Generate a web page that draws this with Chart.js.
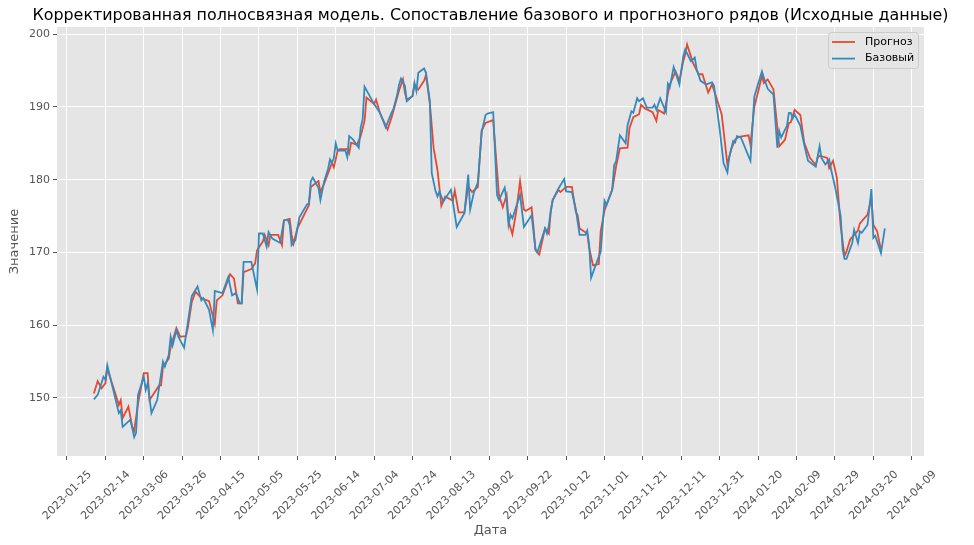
<!DOCTYPE html>
<html><head><meta charset="utf-8">
<script src="https://cdn.jsdelivr.net/npm/chart.js@4.4.1/dist/chart.umd.min.js"></script>
<style>html,body{margin:0;padding:0;background:#fff;}#wrap{width:974px;height:545px;}</style>
</head><body><div id="wrap"><canvas id="c" width="974" height="545"></canvas></div>
<script>
const TITLE = 'Корректированная полносвязная модель. Сопоставление базового и прогнозного рядов (Исходные данные)';
const X_LABEL = 'Дата';
const Y_LABEL = 'Значение';
const SERIES_NAMES = ['Прогноз', 'Базовый'];
const tickDates = ['2023-01-25','2023-02-14','2023-03-06','2023-03-26','2023-04-15','2023-05-05','2023-05-25','2023-06-14','2023-07-04','2023-07-24','2023-08-13','2023-09-02','2023-09-22','2023-10-12','2023-11-01','2023-11-21','2023-12-11','2023-12-31','2024-01-20','2024-02-09','2024-02-29','2024-03-20','2024-04-09'];
const yTicks = [150,160,170,180,190,200];

const baseDates = ['2023-02-08','2023-02-10','2023-02-13','2023-02-14','2023-02-15','2023-02-21','2023-02-22','2023-02-23','2023-02-27','2023-03-01','2023-03-02','2023-03-03','2023-03-06','2023-03-07','2023-03-08','2023-03-10','2023-03-13','2023-03-16','2023-03-17','2023-03-19','2023-03-20','2023-03-21','2023-03-23','2023-03-24','2023-03-27','2023-03-31','2023-04-03','2023-04-05','2023-04-06','2023-04-09','2023-04-11','2023-04-12','2023-04-16','2023-04-19','2023-04-21','2023-04-23','2023-04-25','2023-04-26','2023-04-27','2023-05-01','2023-05-04','2023-05-05','2023-05-07','2023-05-09','2023-05-10','2023-05-12','2023-05-16','2023-05-18','2023-05-20','2023-05-21','2023-05-22','2023-05-24','2023-05-26','2023-05-30','2023-05-31','2023-06-01','2023-06-02','2023-06-05','2023-06-06','2023-06-08','2023-06-10','2023-06-11','2023-06-12','2023-06-13','2023-06-14','2023-06-15','2023-06-19','2023-06-20','2023-06-21','2023-06-23','2023-06-26','2023-06-27','2023-06-28','2023-06-29','2023-07-04','2023-07-07','2023-07-10','2023-07-13','2023-07-14','2023-07-16','2023-07-17','2023-07-18','2023-07-20','2023-07-21','2023-07-24','2023-07-25','2023-07-26','2023-07-27','2023-07-30','2023-07-31','2023-08-02','2023-08-03','2023-08-05','2023-08-06','2023-08-07','2023-08-09','2023-08-13','2023-08-16','2023-08-20','2023-08-22','2023-08-23','2023-08-25','2023-08-27','2023-08-29','2023-08-31','2023-09-01','2023-09-04','2023-09-06','2023-09-07','2023-09-10','2023-09-11','2023-09-12','2023-09-13','2023-09-14','2023-09-18','2023-09-20','2023-09-24','2023-09-26','2023-09-27','2023-10-01','2023-10-02','2023-10-03','2023-10-04','2023-10-05','2023-10-08','2023-10-11','2023-10-12','2023-10-15','2023-10-17','2023-10-19','2023-10-22','2023-10-23','2023-10-24','2023-10-25','2023-10-28','2023-10-30','2023-11-01','2023-11-02','2023-11-05','2023-11-06','2023-11-07','2023-11-09','2023-11-12','2023-11-13','2023-11-15','2023-11-16','2023-11-18','2023-11-19','2023-11-21','2023-11-23','2023-11-26','2023-11-27','2023-11-28','2023-11-30','2023-12-03','2023-12-04','2023-12-05','2023-12-07','2023-12-10','2023-12-12','2023-12-13','2023-12-16','2023-12-18','2023-12-19','2023-12-21','2023-12-24','2023-12-27','2023-12-28','2023-12-31','2024-01-02','2024-01-04','2024-01-05','2024-01-07','2024-01-08','2024-01-09','2024-01-11','2024-01-16','2024-01-18','2024-01-20','2024-01-22','2024-01-23','2024-01-25','2024-01-28','2024-01-30','2024-01-31','2024-02-01','2024-02-04','2024-02-05','2024-02-06','2024-02-07','2024-02-08','2024-02-11','2024-02-13','2024-02-15','2024-02-19','2024-02-21','2024-02-22','2024-02-24','2024-02-26','2024-02-27','2024-02-29','2024-03-03','2024-03-04','2024-03-05','2024-03-06','2024-03-09','2024-03-10','2024-03-12','2024-03-13','2024-03-14','2024-03-17','2024-03-19','2024-03-20','2024-03-21','2024-03-24','2024-03-26'];
const baseValues = [149.8,150.4,152.9,152.5,154.5,147.9,148.3,146.0,147.0,144.6,145.2,150.4,152.9,151.1,152.0,147.9,149.7,155.0,154.3,155.9,158.4,157.2,159.3,158.4,156.9,164.0,165.3,163.4,163.7,162.1,159.3,164.7,164.4,166.6,164.1,164.4,163.0,163.0,168.7,168.7,164.9,172.6,172.6,170.8,172.8,171.9,171.3,174.4,174.5,173.8,171.0,171.7,174.8,176.6,176.7,179.8,180.3,178.9,177.2,179.8,181.5,182.8,182.3,183.0,185.0,184.0,184.0,183.1,186.0,185.5,184.4,187.2,188.3,192.8,190.4,189.2,187.2,189.2,189.7,191.7,193.1,193.9,192.9,190.8,191.5,193.3,192.2,194.7,195.3,194.7,190.8,180.9,178.4,177.7,178.4,177.0,178.6,173.5,175.4,180.7,175.9,178.3,179.6,186.5,188.9,189.1,189.3,177.9,177.2,178.9,177.0,173.8,175.2,174.7,177.9,173.5,175.1,170.5,170.0,173.3,172.6,173.7,175.8,177.2,178.8,180.1,178.4,178.3,176.0,172.4,172.4,173.0,171.0,166.5,168.7,170.1,177.1,176.5,178.6,182.0,182.5,186.1,185.0,187.5,189.4,189.2,191.2,190.8,191.2,189.9,189.9,190.3,189.6,191.2,189.3,193.2,192.7,195.5,193.1,197.0,197.9,196.3,196.8,195.2,193.6,193.1,193.4,192.9,186.9,182.3,181.0,183.2,185.3,185.1,186.0,185.8,182.6,191.4,193.2,194.9,194.0,192.5,191.7,184.4,186.7,185.8,187.4,189.2,189.2,188.4,189.0,187.4,184.8,182.6,181.8,184.6,183.0,182.1,182.8,181.4,179.1,175.0,170.4,169.1,169.1,171.3,173.1,171.3,172.9,172.7,173.8,178.7,172.0,172.3,169.9,173.3];

const forecastDates = ['2023-02-08','2023-02-10','2023-02-12','2023-02-14','2023-02-15','2023-02-20','2023-02-21','2023-02-22','2023-02-23','2023-02-26','2023-02-28','2023-03-01','2023-03-03','2023-03-06','2023-03-08','2023-03-09','2023-03-14','2023-03-15','2023-03-16','2023-03-19','2023-03-20','2023-03-23','2023-03-25','2023-03-28','2023-03-29','2023-03-31','2023-04-02','2023-04-05','2023-04-09','2023-04-12','2023-04-13','2023-04-16','2023-04-20','2023-04-22','2023-04-24','2023-04-26','2023-04-27','2023-05-01','2023-05-03','2023-05-04','2023-05-07','2023-05-08','2023-05-10','2023-05-11','2023-05-15','2023-05-17','2023-05-18','2023-05-21','2023-05-22','2023-05-23','2023-05-25','2023-05-31','2023-06-01','2023-06-05','2023-06-06','2023-06-08','2023-06-12','2023-06-13','2023-06-15','2023-06-16','2023-06-20','2023-06-21','2023-06-22','2023-06-25','2023-06-27','2023-06-29','2023-06-30','2023-07-04','2023-07-05','2023-07-07','2023-07-11','2023-07-13','2023-07-17','2023-07-19','2023-07-20','2023-07-21','2023-07-24','2023-07-25','2023-07-27','2023-07-30','2023-07-31','2023-08-02','2023-08-04','2023-08-06','2023-08-08','2023-08-10','2023-08-14','2023-08-15','2023-08-17','2023-08-20','2023-08-22','2023-08-24','2023-08-27','2023-08-29','2023-08-31','2023-09-04','2023-09-07','2023-09-09','2023-09-11','2023-09-12','2023-09-14','2023-09-16','2023-09-18','2023-09-20','2023-09-21','2023-09-24','2023-09-25','2023-09-26','2023-09-28','2023-09-30','2023-10-01','2023-10-03','2023-10-04','2023-10-05','2023-10-08','2023-10-09','2023-10-12','2023-10-15','2023-10-17','2023-10-18','2023-10-19','2023-10-23','2023-10-24','2023-10-26','2023-10-29','2023-10-30','2023-11-01','2023-11-05','2023-11-07','2023-11-09','2023-11-13','2023-11-14','2023-11-16','2023-11-19','2023-11-20','2023-11-22','2023-11-26','2023-11-28','2023-11-29','2023-12-02','2023-12-05','2023-12-08','2023-12-10','2023-12-12','2023-12-13','2023-12-14','2023-12-17','2023-12-20','2023-12-22','2023-12-25','2023-12-27','2023-12-29','2024-01-01','2024-01-04','2024-01-06','2024-01-08','2024-01-10','2024-01-15','2024-01-16','2024-01-18','2024-01-20','2024-01-22','2024-01-23','2024-01-25','2024-01-28','2024-01-31','2024-02-03','2024-02-05','2024-02-06','2024-02-08','2024-02-11','2024-02-13','2024-02-16','2024-02-19','2024-02-20','2024-02-21','2024-02-25','2024-02-26','2024-02-28','2024-03-01','2024-03-03','2024-03-05','2024-03-06','2024-03-08','2024-03-12','2024-03-13','2024-03-17','2024-03-19','2024-03-20','2024-03-22','2024-03-24'];
const forecastValues = [150.6,152.3,151.3,152.0,154.0,149.9,149.0,149.7,147.2,148.8,146.0,145.5,149.2,153.4,153.4,149.7,151.7,151.7,154.3,155.4,157.0,159.6,158.4,158.5,159.7,163.2,164.6,163.7,163.3,160.2,163.4,164.1,167.0,166.4,163.0,163.0,167.3,167.7,168.5,170.3,171.5,172.4,171.0,172.4,172.4,171.0,174.4,174.6,172.4,171.2,173.3,176.5,179.0,179.8,178.3,179.5,182.3,181.7,184.0,184.2,184.2,183.6,185.1,184.8,186.0,188.1,191.3,190.4,191.0,189.2,186.9,188.5,192.3,193.8,192.0,191.0,191.5,193.1,192.4,193.6,194.4,190.5,184.3,181.3,176.4,177.7,177.1,178.5,175.5,175.5,179.0,178.3,179.0,186.8,187.8,188.2,177.9,176.2,177.9,174.3,172.5,175.6,179.8,175.9,175.7,176.2,173.5,170.3,169.7,172.1,173.3,172.6,175.6,177.2,178.6,178.3,179.0,179.0,175.6,175.1,173.3,172.6,170.6,168.2,168.4,172.9,175.8,178.6,181.8,184.3,184.4,187.1,188.6,189.0,190.3,189.8,189.3,188.1,189.6,189.1,193.1,194.9,193.6,196.3,197.2,198.6,196.1,194.5,194.5,192.0,193.1,191.5,189.0,182.1,184.2,185.5,185.9,186.1,184.8,190.0,192.1,194.3,193.3,193.8,192.4,184.6,185.5,187.8,187.9,189.6,188.9,185.1,183.0,182.0,183.0,183.3,183.0,181.6,182.6,180.3,173.6,169.5,170.1,171.8,173.0,174.0,175.2,177.5,173.8,172.9,170.3];

const EPOCH = Date.UTC(2023, 0, 25);
function dayNum(s) { const p = s.split('-').map(Number); return (Date.UTC(p[0], p[1]-1, p[2]) - EPOCH) / 864e5; }
function toPoints(dates, vals) { return dates.map((d, i) => ({x: dayNum(d), y: vals[i]})); }
const tickPos = tickDates.map(dayNum);
const labelByPos = {}; tickPos.forEach((p, i) => labelByPos[p] = tickDates[i]);

const FONT = 'DejaVu Sans';
const RED = '#E24A33', BLUE = '#348ABD';

const bgPlugin = {
  id: 'bg',
  beforeDraw(chart) {
    const {ctx, chartArea: a} = chart;
    ctx.save();
    ctx.fillStyle = '#ffffff'; ctx.fillRect(0, 0, chart.width, chart.height);
    ctx.fillStyle = '#E5E5E5'; ctx.fillRect(a.left, a.top, a.right - a.left, a.bottom - a.top);
    ctx.restore();
  }
};
const titlePlugin = {
  id: 'axesTitle',
  afterDraw(chart) {
    const {ctx, chartArea: a} = chart;
    ctx.save();
    ctx.font = '15.9px "' + FONT + '"';
    ctx.fillStyle = '#000'; ctx.textAlign = 'center'; ctx.textBaseline = 'middle';
    ctx.fillText(TITLE, (a.left + a.right) / 2, 16);
    ctx.restore();
  }
};
const legendPlugin = {
  id: 'innerLegend',
  afterDatasetsDraw(chart) {
    const {ctx, chartArea: a} = chart;
    const w = 90, h = 36, x = a.right - 6 - w, y = a.top + 5;
    ctx.save();
    ctx.beginPath();
    if (ctx.roundRect) ctx.roundRect(x + 0.5, y + 0.5, w, h, 3); else ctx.rect(x + 0.5, y + 0.5, w, h);
    ctx.fillStyle = 'rgba(229,229,229,0.8)'; ctx.fill();
    ctx.strokeStyle = '#CCCCCC'; ctx.lineWidth = 1; ctx.stroke();
    const items = [{label: SERIES_NAMES[0], color: RED}, {label: SERIES_NAMES[1], color: BLUE}];
    ctx.font = '11px "' + FONT + '"';
    ctx.textBaseline = 'middle'; ctx.textAlign = 'left';
    items.forEach((it, i) => {
      const ly = y + 10 + i * 16.6;
      ctx.beginPath(); ctx.moveTo(x + 4, ly); ctx.lineTo(x + 27, ly);
      ctx.strokeStyle = it.color; ctx.lineWidth = 1.8; ctx.stroke();
      ctx.fillStyle = '#000'; ctx.fillText(it.label, x + 37, ly);
    });
    ctx.restore();
  }
};

new Chart(document.getElementById('c'), {
  type: 'line',
  data: {
    datasets: [
      {label: SERIES_NAMES[1], data: toPoints(baseDates, baseValues), borderColor: BLUE, borderWidth: 1.8, pointRadius: 0, tension: 0, fill: false, order: 1},
      {label: SERIES_NAMES[0], data: toPoints(forecastDates, forecastValues), borderColor: RED, borderWidth: 1.8, pointRadius: 0, tension: 0, fill: false, order: 2}
    ]
  },
  options: {
    responsive: false, devicePixelRatio: 1, animation: false,
    layout: {padding: {left: 0, right: 50, top: 27, bottom: 0}},
    plugins: {
      legend: {display: false}, tooltip: {enabled: false}, title: {display: false}
    },
    scales: {
      x: {
        type: 'linear', min: -5.2, max: 446.4,
        afterBuildTicks(s) { s.ticks = tickPos.map(v => ({value: v})); },
        afterFit(s) { s.height = 89; },
        border: {display: false},
        grid: {color: '#ffffff', lineWidth: 1, drawTicks: true, tickLength: 4, tickColor: '#555555', tickWidth: 1},
        ticks: {autoSkip: false, maxRotation: 45, minRotation: 45, labelOffset: 23, padding: 8, color: '#555555', font: {family: FONT, size: 11}, callback: v => labelByPos[v] || ''},
        title: {display: true, text: X_LABEL, color: '#555555', font: {family: FONT, size: 13}, padding: {top: 0, bottom: 7}}
      },
      y: {
        type: 'linear', min: 142.0, max: 201.0,
        afterBuildTicks(s) { s.ticks = yTicks.map(v => ({value: v})); },
        afterFit(s) { s.width = 57; },
        border: {display: false},
        grid: {color: '#ffffff', lineWidth: 1, drawTicks: true, tickLength: 4, tickColor: '#555555', tickWidth: 1},
        ticks: {padding: 3, color: '#555555', font: {family: FONT, size: 11}, callback: v => String(v)},
        title: {display: true, text: Y_LABEL, color: '#555555', font: {family: FONT, size: 13}, padding: {top: 7, bottom: 0}}
      }
    }
  },
  plugins: [bgPlugin, titlePlugin, legendPlugin]
});
</script></body></html>
